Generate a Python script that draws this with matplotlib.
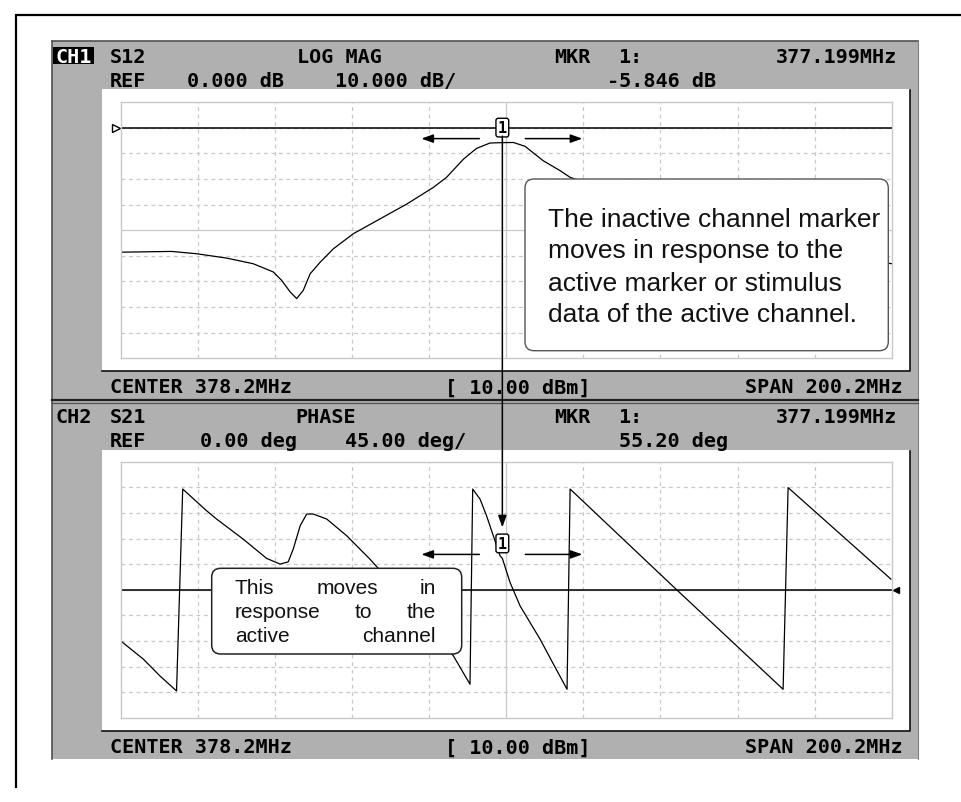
import numpy as np
import matplotlib
matplotlib.use("Agg")
import matplotlib.pyplot as plt
from matplotlib.patches import Rectangle, FancyBboxPatch
from matplotlib.transforms import offset_copy

# ---------------- data ----------------
center_mhz = 378.2
span_mhz = 200.2
ch1_ref_db = 0.0
ch1_scale_db = 10.0
ch2_ref_deg = 0.0
ch2_scale_deg = 45.0
marker_mhz = 377.199
marker_ch1_db = -5.846
marker_ch2_deg = 55.20

ch1_freq = [278.1, 291.3, 297.8, 305.6, 312.5, 317.7, 319.9, 322.1, 323.8, 325.5,
            327.3, 329.9, 333.3, 338.5, 344.6, 352.4, 359.3, 362.7, 367.1, 370.5,
            374.0, 377.2, 380.1, 383.1, 387.8, 392.2, 394.8, 415.5, 441.5, 467.5, 478.3]
ch1_db = [-48.6, -48.3, -49.2, -50.9, -53.1, -56.3, -59.6, -64.1, -66.7, -63.5,
          -57.0, -52.5, -47.3, -41.4, -36.3, -29.8, -23.3, -19.4, -12.3, -8.1,
          -6.0, -5.85, -5.8, -7.3, -12.9, -16.8, -19.4, -29.8, -41.4, -50.4, -53.1]

ch2_freq = [278.1, 284.0, 288.3, 292.6, 294.2, 300.4, 303.0, 309.9, 316.0, 319.5,
            321.6, 322.9, 324.7, 326.4, 328.1, 331.6, 336.8, 342.8, 345.0, 354.9,
            364.5, 368.8, 369.5, 371.4, 373.1, 376.6, 377.2, 379.2, 381.8, 387.0,
            390.9, 394.0, 394.8, 422.3, 450.1, 451.4, 478.1]
ch2_deg = [-89.6, -121.8, -151.2, -177.5, 177.0, 138.9, 124.3, 89.1, 55.2, 45.2,
           49.2, 71.5, 112.5, 133.1, 133.1, 124.3, 94.9, 54.0, 37.6, -37.6,
           -116.0, -165.8, 177.0, 159.4, 130.1, 59.8, 55.2, 13.0, -28.1, -86.7,
           -135.9, -174.6, 177.0, 1.2, -174.6, 179.5, 18.8]

ch1_row1 = ["S12", "LOG MAG", "MKR", "1:", "377.199MHz"]
ch1_row2 = ["REF", "0.000 dB", "10.000 dB/", "-5.846 dB"]
ch2_row1 = ["S21", "PHASE", "MKR", "1:", "377.199MHz"]
ch2_row2 = ["REF", "0.00 deg", "45.00 deg/", "55.20 deg"]
footer = ["CENTER 378.2MHz", "[ 10.00 dBm]", "SPAN 200.2MHz"]

note1 = ["The inactive channel marker", "moves in response to the",
         "active marker or stimulus", "data of the active channel."]
note2 = [["This", "moves", "in"], ["response", "to", "the"], ["active", "channel"]]

# ---------------- layout ----------------
W, H = 962, 803
fig = plt.figure(figsize=(W / 100, H / 100), dpi=100)

def rect_frac(x0, y0, x1, y1):
    return [x0 / W, 1 - y1 / H, (x1 - x0) / W, (y1 - y0) / H]

GRAY = "#b0b0b0"
GRID = "#c8c8c8"
MONO = "DejaVu Sans Mono"
SANS = "Liberation Sans"

bg = fig.add_axes([0, 0, 1, 1], zorder=0)
bg.set_xlim(0, W); bg.set_ylim(H, 0); bg.axis("off")

# outer frame
bg.plot([16, 16, W + 5], [788, 16, 16], color="k", lw=1.6, solid_joinstyle="miter")
# instrument panel
bg.add_patch(Rectangle((51.7, 41.7), 918.3 - 51.7, 760 - 41.7, fc=GRAY, ec="none"))
bg.plot([51.7, 918.3], [42.2, 42.2], color="#505050", lw=1.2)
bg.plot([52.2, 52.2], [41.7, 760], color="#505050", lw=1.2)
bg.plot([917.8, 917.8], [41.7, 760], color="#808080", lw=0.8)
bg.plot([51.7, 918.3], [400.6, 400.6], color="#202020", lw=1.6)
bg.plot([51.7, 918.3], [403.6, 403.6], color="#505050", lw=0.9)

for dy in (0, 360.7):
    bg.add_patch(Rectangle((101.7, 90 + dy), 910 - 101.7, 281.7, fc="white", ec="none"))
    bg.plot([101.7, 910, 910], [371.7 + dy, 371.7 + dy, 91 + dy], color="#101010", lw=1.2)

def hdr(x, y, s, ha="left", color="k"):
    bg.text(x, y, s, fontsize=14.5, family=MONO, fontweight="bold", ha=ha,
            va="baseline", color=color)

# channel 1 header
bg.add_patch(Rectangle((53, 48), 41, 16.5, fc="black", ec="none"))
hdr(73.5, 63.3, "CH1", ha="center", color="white")
for x, s in zip([110, 296.7, 554, 618], ch1_row1[:4]):
    hdr(x, 63.3, s)
hdr(896.7, 63.3, ch1_row1[4], ha="right")
for x, s in zip([110, 186.7, 335, 606.7], ch1_row2):
    hdr(x, 86.7, s)
# channel 2 header
hdr(73.5, 423.3, "CH2", ha="center")
for x, s in zip([110, 295, 554, 618], ch2_row1[:4]):
    hdr(x, 423.3, s)
hdr(896.7, 423.3, ch2_row1[4], ha="right")
for x, s in zip([110, 200, 345, 619.3], ch2_row2):
    hdr(x, 446.7, s)
# footers
for yb in (393.3, 753.5):
    hdr(110, yb, footer[0])
    hdr(445, yb, footer[1])
    hdr(903, yb, footer[2], ha="right")

# ---------------- data axes ----------------
GX0, GX1 = 120.7, 891.7
ax1 = fig.add_axes(rect_frac(GX0, 103, GX1, 359.3), zorder=1)
ax2 = fig.add_axes(rect_frac(GX0, 462.7, GX1, 719), zorder=1)

flo, fhi = center_mhz - span_mhz / 2, center_mhz + span_mhz / 2
lims = [(ch1_ref_db - 9 * ch1_scale_db, ch1_ref_db + 1 * ch1_scale_db),
        (ch2_ref_deg - 5 * ch2_scale_deg, ch2_ref_deg + 5 * ch2_scale_deg)]

for ax, (ylo, yhi) in zip((ax1, ax2), lims):
    ax.set_xlim(flo, fhi); ax.set_ylim(ylo, yhi)
    ax.set_facecolor("none")
    ax.set_xticks([]); ax.set_yticks([])
    for sp in ax.spines.values():
        sp.set_color(GRID); sp.set_linewidth(1.0)
    for i, xv in enumerate(np.linspace(flo, fhi, 11)[1:-1], 1):
        ax.axvline(xv, color=GRID, lw=0.9, ls="-" if i == 5 else (0, (3, 3)), zorder=0.5)
    for i, yv in enumerate(np.linspace(ylo, yhi, 11)[1:-1], 1):
        ax.axhline(yv, color=GRID, lw=0.9, ls="-" if i == 5 else (0, (3, 3)), zorder=0.5)

ax1.plot(ch1_freq, ch1_db, color="k", lw=0.9, zorder=2)
ax2.plot(ch2_freq, ch2_deg, color="k", lw=0.9, zorder=2)

# reference lines and their indicators
ax1.axhline(ch1_ref_db, color="k", lw=1.1, zorder=1.5)
ax1.plot([flo, flo], [ch1_ref_db, ch1_ref_db], color="k", lw=1.1, clip_on=False,
         transform=offset_copy(ax1.transData, fig=fig, x=-5, y=0, units="dots"))
ax1.plot([flo], [ch1_ref_db], marker=">", ms=6, mfc="white", mec="k", mew=1,
         clip_on=False, transform=offset_copy(ax1.transData, fig=fig, x=-4.5, y=0, units="dots"))
ax2.axhline(ch2_ref_deg, color="k", lw=1.1, zorder=1.5)
ax2.plot([fhi], [ch2_ref_deg], marker="<", ms=5, mfc="k", mec="k",
         clip_on=False, transform=offset_copy(ax2.transData, fig=fig, x=4.5, y=0, units="dots"))

# markers
arrow_style = "-|>,head_length=0.7,head_width=0.25"
for ax, mv in ((ax1, marker_ch1_db), (ax2, marker_ch2_deg)):
    ax.annotate("1", xy=(marker_mhz, mv), xytext=(0, 10.8), textcoords="offset points",
                ha="center", va="center", fontsize=11, fontweight="bold", family=MONO,
                zorder=6,
                bbox=dict(boxstyle="round,pad=0.12,rounding_size=0.15", fc="white",
                          ec="black", lw=1.0))
    for a, b in ((-23, -81), (23, 80)):
        ax.annotate("", xy=(marker_mhz, mv),
                    xycoords=offset_copy(ax.transData, fig=fig, x=b, y=4, units="dots"),
                    xytext=(marker_mhz, mv),
                    textcoords=offset_copy(ax.transData, fig=fig, x=a, y=4, units="dots"),
                    arrowprops=dict(arrowstyle=arrow_style, color="k", lw=1.1,
                                    shrinkA=0, shrinkB=0, mutation_scale=10),
                    annotation_clip=False, zorder=6)

# ---------------- overlay: marker link and callouts ----------------
ov = fig.add_axes([0, 0, 1, 1], zorder=2)
ov.set_xlim(0, W); ov.set_ylim(H, 0); ov.axis("off")
inv = ov.transData.inverted()
p1 = inv.transform(ax1.transData.transform((marker_mhz, marker_ch1_db)))
p2 = inv.transform(ax2.transData.transform((marker_mhz, marker_ch2_deg)))
ov.annotate("", xy=(p2[0], p2[1] - 31), xytext=(p1[0], p1[1] - 6.5),
            arrowprops=dict(arrowstyle=arrow_style, color="k", lw=1.1,
                            shrinkA=0, shrinkB=0, mutation_scale=10))

ov.add_patch(FancyBboxPatch((525, 180), 888.3 - 525, 351.7 - 180,
                            boxstyle="round,pad=0,rounding_size=9",
                            fc="white", ec="#555555", lw=1.0, zorder=2))
for yb, line in zip([226.7, 258.3, 290.7, 322.3], note1):
    ov.text(548.3, yb, line, fontsize=19, family=SANS, va="baseline", ha="left",
            color="#111111", zorder=3)

ov.add_patch(FancyBboxPatch((211.7, 569.3), 461.7 - 211.7, 655 - 569.3,
                            boxstyle="round,pad=0,rounding_size=9",
                            fc="white", ec="#222222", lw=1.1, zorder=2))
renderer = fig.canvas.get_renderer()
jx0, jx1 = 235, 436
for yb, words in zip([594, 618, 642.3], note2):
    ts = [ov.text(0, yb, w, fontsize=15, family=SANS, va="baseline", ha="left",
                  color="#111111", zorder=3) for w in words]
    widths = [t.get_window_extent(renderer).width for t in ts]
    gap = ((jx1 - jx0) - sum(widths)) / (len(words) - 1)
    x = jx0
    for t, w in zip(ts, widths):
        t.set_x(x)
        x += w + gap

fig.savefig("out.png", dpi=100)
